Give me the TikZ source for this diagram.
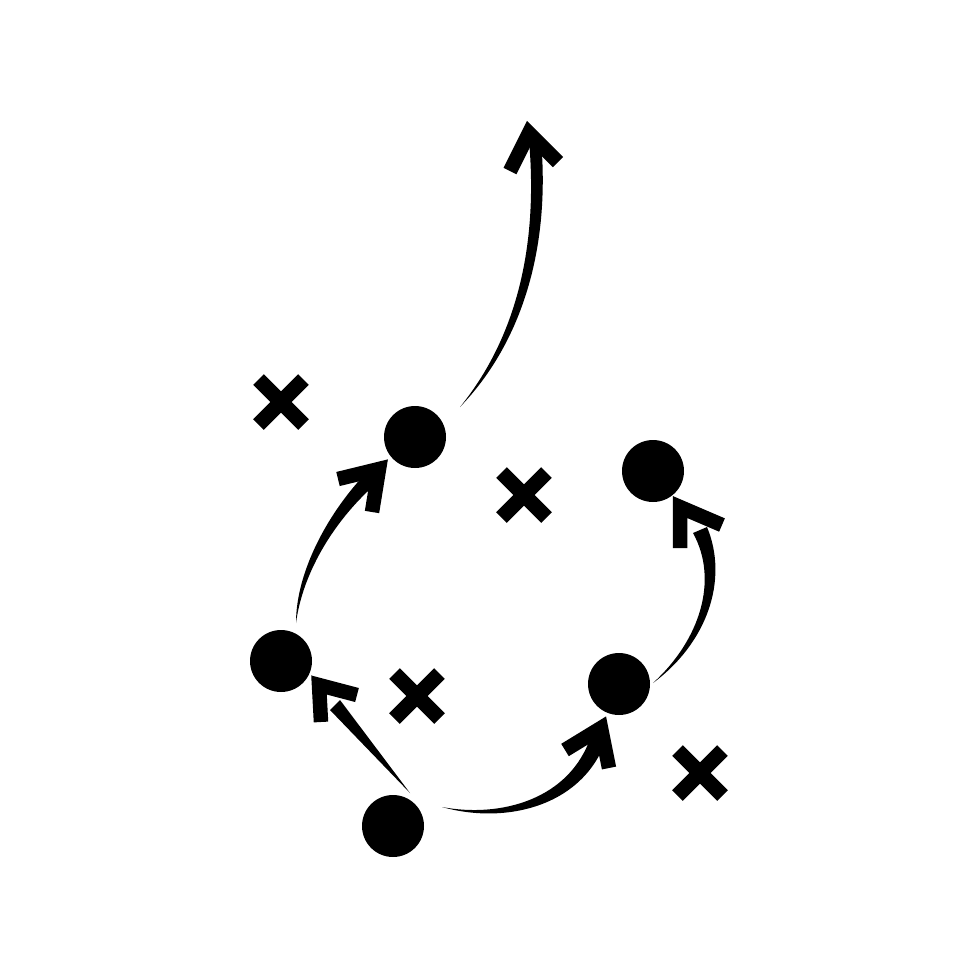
\documentclass[tikz,border=0pt]{standalone}
\usetikzlibrary{shapes.misc}
\tikzset{
  player/.style={circle,fill=black,minimum size=6.2mm,inner sep=0pt},
  defender/.style={cross out,draw,line width=1.5mm,minimum size=4.5mm,inner sep=0pt,outer sep=0pt},
  head/.style={line width=1.45mm,miter limit=10},
}
\begin{document}
\begin{tikzpicture}[x=0.1mm,y=-0.1mm]
  \useasboundingbox (0,0) rectangle (980,980);
  % players
  \node[player] (pa) at (415,437) {};
  \node[player] (pb) at (653,471) {};
  \node[player] (pc) at (281,661) {};
  \node[player] (pd) at (619,684) {};
  \node[player] (pe) at (393,826) {};
  % defenders
  \node[defender] (da) at (281,402) {};
  \node[defender] (db) at (524,495) {};
  \node[defender] (dc) at (417,696) {};
  \node[defender] (dd) at (700,773) {};
  % arrow tips
  \coordinate (tipa) at (529,133);
  \coordinate (tipb) at (379,469);
  \coordinate (tipc) at (319,685);
  \coordinate (tipd) at (601,728);
  \coordinate (tipe) at (680,507);
  % long run
  \fill (460,407) .. controls (512,343) and (539,255) .. (529,140) -- (541,140) .. controls (551,255) and (518,347) .. (460,407) -- cycle;
  \draw[head] (510,171) -- (tipa) -- (558,162);
  % c to a
  \fill (296,623) .. controls (296,570) and (330,510) .. (368,471) -- (378,482) .. controls (337,517) and (303,570) .. (296,623) -- cycle;
  \draw[head] (338,479) -- (tipb) -- (372,512);
  % e to c
  \fill (410,793) -- (330,710) -- (340,700) -- cycle;
  \draw[head] (321,722) -- (tipc) -- (357,695);
  % e to d
  \fill (442,807) .. controls (500,818) and (570,800) .. (591,736) -- (605,743) .. controls (579,809) and (502,824) .. (442,807) -- cycle;
  \draw[head] (565,750) -- (tipd) -- (609,768);
  % d to b
  \fill (653,683) .. controls (700,640) and (719,580) .. (693,533) -- (707,527) .. controls (729,580) and (707,643) .. (653,683) -- cycle;
  \draw[head] (680,548) -- (tipe) -- (722,525);
\end{tikzpicture}
\end{document}
